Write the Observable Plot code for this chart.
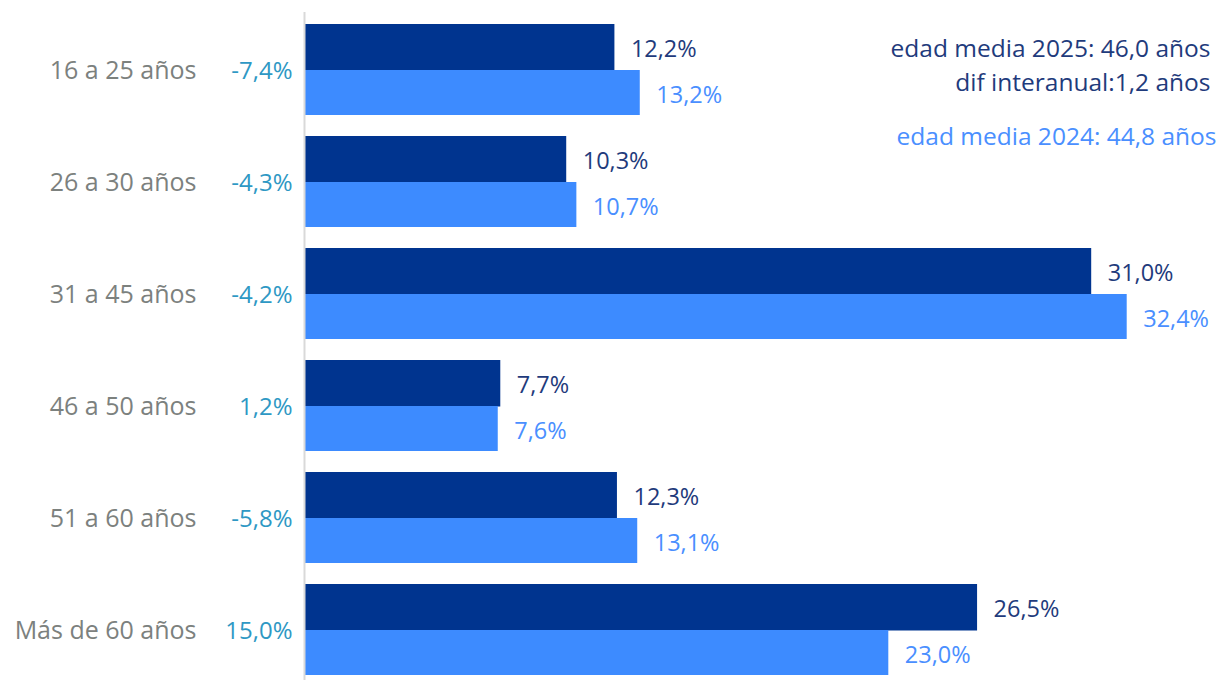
<!DOCTYPE html>
<html>
<head>
<meta charset="utf-8">
<script src="https://cdn.jsdelivr.net/npm/d3@7"></script>
<script src="https://cdn.jsdelivr.net/npm/@observablehq/plot@0.6"></script>
<style>
  html, body { margin: 0; padding: 0; background: #fff; }
  svg { display: block; }
</style>
</head>
<body>
<div id="chart"></div>
<script>
const categories = ["16 a 25 años", "26 a 30 años", "31 a 45 años", "46 a 50 años", "51 a 60 años", "Más de 60 años"];
const values2025 = [12.2, 10.3, 31.0, 7.7, 12.3, 26.5];
const values2024 = [13.2, 10.7, 32.4, 7.6, 13.1, 23.0];
const changes = ["-7,4%", "-4,3%", "-4,2%", "1,2%", "-5,8%", "15,0%"];
const notes2025 = ["edad media 2025: 46,0 años", "dif interanual:1,2 años"];
const notes2024 = ["edad media 2024: 44,8 años"];

const fmt = v => v.toFixed(1).replace(".", ",") + "%";
const rows = categories.map((c, i) => ({cat: c, v25: values2025[i], v24: values2024[i], chg: changes[i]}));

const font = "'Open Sans', Lato, sans-serif";
const dark = "#00348f", light = "#3d8bff";
const darkText = "#1f3b7c", lightText = "#4a8fff";

const chart = Plot.plot({
  width: 1218,
  height: 680,
  marginLeft: 305,
  marginRight: 0,
  marginTop: 12,
  marginBottom: 0,
  style: {fontFamily: font, fontSize: "20px", background: "#fff"},
  x: {domain: [0, 36], axis: null},
  y: {domain: categories, range: [22, 678], paddingInner: 0.1844, paddingOuter: 0, axis: null},
  marks: [
    Plot.barX(rows, {y: "cat", x: "v25", fill: dark, insetBottom: 44.5}),
    Plot.barX(rows, {y: "cat", x: "v24", fill: light, insetTop: 46}),
    Plot.ruleX([0], {stroke: "#d9d9d9", strokeWidth: 2, dx: -1}),
    Plot.text(rows, {y: "cat", x: "v25", text: d => fmt(d.v25), textAnchor: "start", dx: 16, dy: -21, fill: darkText, fontSize: 23.5}),
    Plot.text(rows, {y: "cat", x: "v24", text: d => fmt(d.v24), textAnchor: "start", dx: 16, dy: 25, fill: lightText, fontSize: 23.5}),
    Plot.text(rows, {y: "cat", x: 0, text: "chg", textAnchor: "end", dx: -13, dy: 1, fill: "#2e98c4", fontSize: 24}),
    Plot.text(rows, {y: "cat", x: 0, text: "cat", textAnchor: "end", dx: -109, dy: 1, fill: "#7c817e", fontSize: 25}),
    Plot.text([notes2025.join("\n")], {frameAnchor: "top-right", text: d => d, dx: -8, dy: 20, lineAnchor: "top", lineHeight: 1.4, fill: darkText, fontSize: 24.5}),
    Plot.text(notes2024, {frameAnchor: "top-right", text: d => d, dx: -2, dy: 125, lineAnchor: "middle", fill: lightText, fontSize: 24.5})
  ]
});

document.getElementById("chart").appendChild(chart);
</script>
</body>
</html>
